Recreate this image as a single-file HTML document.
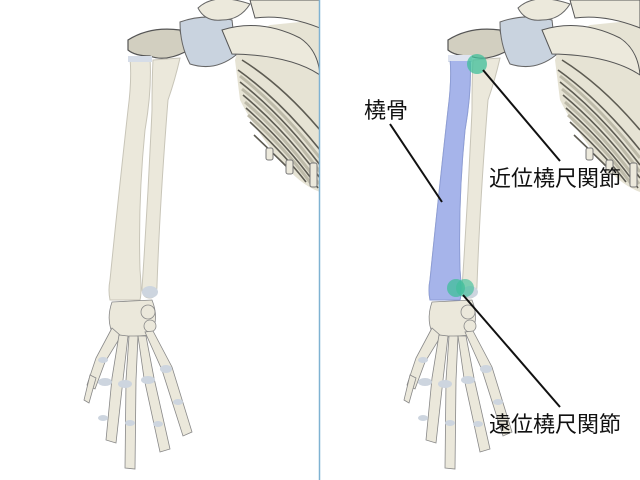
<!DOCTYPE html>
<html><head><meta charset="utf-8"><style>
html,body{margin:0;padding:0;background:#fff;width:640px;height:480px;overflow:hidden}
svg{display:block}
text{font-family:"Liberation Sans","Noto Sans CJK JP",sans-serif;font-size:22px;fill:#111}
</style></head><body>
<svg width="640" height="480" viewBox="0 0 640 480">
<defs>
<clipPath id="cl"><rect x="0" y="0" width="319" height="480"/></clipPath>
<g id="sk">
  <!-- ribcage -->
  <path d="M235 60 Q240 40 270 25 L320 20 L320 192 Q300 185 280 160 Q255 130 240 100Z" fill="#e6e3d4"/>
  <g fill="none" stroke="#5d5b52" stroke-width="1.6">
    <path d="M238 70 Q280 100 320 150"/>
    <path d="M240 82 Q282 115 320 165"/>
    <path d="M243 95 Q285 130 320 178"/>
    <path d="M246 108 Q288 145 318 188"/>
    <path d="M250 122 Q285 155 306 182"/>
    <path d="M242 60 Q282 85 320 130"/>
    <path d="M254 135 Q275 155 292 172"/>
  </g>
  <g fill="none" stroke="#bdbaa9" stroke-width="3">
    <path d="M240 76 Q281 108 320 158"/>
    <path d="M242 89 Q284 122 320 172"/>
    <path d="M245 102 Q287 138 319 184"/>
    <path d="M248 115 Q287 150 312 185"/>
  </g>
  <g fill="#ece9dc" stroke="#777" stroke-width="1">
    <rect x="266" y="148" width="7" height="12" rx="2"/>
    <rect x="286" y="160" width="7" height="14" rx="2"/>
    <rect x="310" y="163" width="7" height="24" rx="2"/>
  </g>
  <!-- shoulder -->
  <path d="M128 40 Q150 26 180 30 L185 52 Q165 62 150 56 Q135 56 128 50Z" fill="#d2cfc0" stroke="#555" stroke-width="1.2"/>
  <path d="M180 22 Q205 13 232 20 L236 55 Q215 72 190 64 Q180 45 180 22Z" fill="#c9d3df" stroke="#666"/>
  <path d="M198 8 Q215 -8 250 4 Q240 20 222 20 Q205 22 198 8Z" fill="#ece9dc" stroke="#666"/>
  <path d="M222 30 Q260 18 300 38 Q318 50 320 75 Q290 55 232 54Z" fill="#ece9dc" stroke="#555"/>
  <path d="M250 0 L320 0 L320 28 Q285 14 255 18Z" fill="#ece9dc" stroke="#555"/>
  <!-- ulna -->
  <path d="M153 60 L180 58 Q175 80 168 100 Q160 200 157 285 Q157 298 150 298 Q142 298 142 288 Q148 200 152 110 Q152 80 153 60Z" fill="#ebe8db" stroke="#c8c5b8"/>
  <ellipse cx="150" cy="292" rx="8" ry="6" fill="#cdd5df"/>
  <!-- radius -->
  <path d="M130 58 L150 58 Q152 90 145 130 Q138 200 140 270 Q142 292 140 300 L110 300 Q108 290 110 280 Q118 200 128 110 Q132 80 130 58Z" fill="#ebe8db" stroke="#c8c5b8"/>
  <rect x="128" y="56" width="24" height="6" fill="#d6dde8"/>
  <!-- hand -->
  <g fill="#ebe8db" stroke="#888" stroke-width="0.8">
    <path d="M112 302 L152 300 Q160 320 150 335 L115 338 Q105 322 112 302Z"/>
    <circle cx="148" cy="312" r="7"/>
    <circle cx="150" cy="326" r="6"/>
    <path d="M112 328 L96 358 L87 385 L95 389 L105 362 L121 336Z"/>
    <path d="M119 335 L112 378 L106 440 L116 443 L123 380 L128 336Z"/>
    <path d="M129 336 L126 380 L125 468 L135 469 L136 380 L138 336Z"/>
    <path d="M138 336 L144 378 L160 452 L170 449 L154 378 L146 336Z"/>
    <path d="M145 332 L162 370 L183 436 L192 432 L172 367 L153 331Z"/>
    <path d="M90 375 L84 400 L89 403 L96 378Z"/>
  </g>
  <g fill="#cdd5df">
    <ellipse cx="103" cy="360" rx="5" ry="3"/>
    <ellipse cx="105" cy="382" rx="7" ry="4"/>
    <ellipse cx="125" cy="384" rx="7" ry="4"/>
    <ellipse cx="148" cy="380" rx="7" ry="4"/>
    <ellipse cx="166" cy="369" rx="6" ry="4"/>
    <ellipse cx="103" cy="418" rx="5" ry="3"/>
    <ellipse cx="130" cy="423" rx="5" ry="3"/>
    <ellipse cx="158" cy="424" rx="5" ry="3"/>
    <ellipse cx="178" cy="402" rx="5" ry="3"/>
  </g>
</g>
</defs>
<use href="#sk" clip-path="url(#cl)"/>
<use href="#sk" transform="translate(320,0)"/>
<line x1="319.5" y1="0" x2="319.5" y2="480" stroke="#7fb2d2" stroke-width="1.5"/>
<!-- blue radius -->
<path d="M450 58 L470 58 Q472 90 465 130 Q458 200 460 270 Q462 292 460 300 L430 300 Q428 290 430 280 Q438 200 448 110 Q452 80 450 58Z" fill="#a6b4ea" stroke="#8d9dd6"/>
<rect x="448" y="55" width="24" height="6" fill="#dfe4f0"/>
<!-- joints -->
<circle cx="477" cy="64" r="10" fill="#3fbf9a" opacity="0.75"/>
<circle cx="456" cy="288" r="9" fill="#3fbf9a" opacity="0.75"/>
<circle cx="465" cy="288" r="9" fill="#3fbf9a" opacity="0.65"/>
<!-- leaders -->
<g stroke="#111" stroke-width="2">
  <line x1="390" y1="124" x2="442" y2="202"/>
  <line x1="483" y1="70" x2="560" y2="161"/>
  <line x1="463" y1="295" x2="560" y2="407"/>
</g>
<text x="364" y="118">橈骨</text>
<text x="489" y="186">近位橈尺関節</text>
<text x="489" y="432">遠位橈尺関節</text>
</svg>
</body></html>
